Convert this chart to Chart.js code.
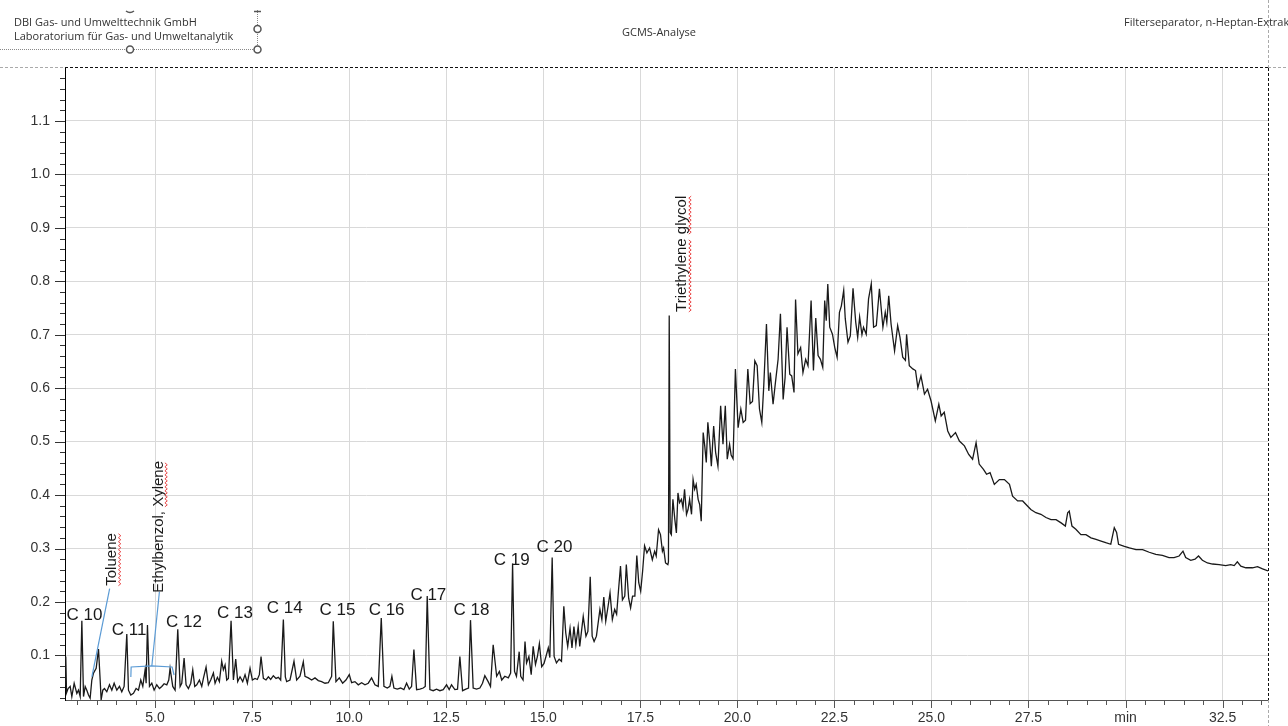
<!DOCTYPE html>
<html>
<head>
<meta charset="utf-8">
<script src="https://cdn.jsdelivr.net/npm/chart.js@4.4.0/dist/chart.umd.min.js"></script>
<style>
html,body{margin:0;padding:0;background:#fff;width:1288px;height:726px;overflow:hidden;}
#wrap{position:relative;width:1288px;height:726px;}
#c{position:absolute;left:0;top:0;}
svg{position:absolute;left:0;top:0;pointer-events:none;}
.hdr{position:absolute;font-family:"Open Sans","Noto Sans",sans-serif;font-size:11px;line-height:13px;color:#333;white-space:nowrap;}
</style>
</head>
<body>
<div id="wrap">
<canvas id="c" width="1288" height="726"></canvas>
<svg width="1288" height="726">
  <line x1="0" y1="49.5" x2="257" y2="49.5" stroke="#888" stroke-width="1" stroke-dasharray="1,1"/>
  <line x1="257.5" y1="10" x2="257.5" y2="49" stroke="#888" stroke-width="1" stroke-dasharray="1,1"/>
  <path d="M126 11 Q130 14 134 11" stroke="#555" stroke-width="1.5" fill="none"/>
  <line x1="254" y1="11.5" x2="261" y2="11.5" stroke="#555" stroke-width="1.5"/>
  <circle cx="130" cy="49.5" r="3.5" fill="#fff" stroke="#555" stroke-width="1.5"/>
  <circle cx="257.5" cy="49.5" r="3.5" fill="#fff" stroke="#555" stroke-width="1.5"/>
  <circle cx="257.5" cy="29" r="3.5" fill="#fff" stroke="#555" stroke-width="1.5"/>
</svg>
<div class="hdr" style="left:14px;top:15px">DBI Gas- und Umwelttechnik GmbH</div>
<div class="hdr" style="left:14px;top:29px">Laboratorium für Gas- und Umweltanalytik</div>
<div class="hdr" style="left:622px;top:25px">GCMS-Analyse</div>
<div class="hdr" style="left:1124px;top:15px">Filterseparator, n-Heptan-Extrakt</div>
</div>
<script>
// ---------- data: [retention time (min), signal] ----------
const signalEarly = [
[2.685,0.045],[2.70,0.098],[2.72,0.030],[2.76,0.038],[2.813,0.042],[2.856,0.023],[2.916,0.048],[2.985,0.029],[3.028,0.035],[3.071,0.023],
[3.114,0.165],[3.157,0.023],[3.200,0.042],[3.242,0.035],[3.285,0.026],[3.328,0.020],[3.371,0.054],[3.414,0.067],[3.483,0.076],[3.543,0.112],
[3.586,0.054],[3.611,0.017],[3.654,0.035],[3.697,0.038],[3.757,0.032],[3.826,0.045],[3.886,0.035],[3.946,0.048],[4.015,0.035],[4.083,0.042],
[4.143,0.032],[4.203,0.042],[4.272,0.140],[4.315,0.035],[4.375,0.026],[4.444,0.029],[4.512,0.038],[4.572,0.035],[4.632,0.054],[4.684,0.042],
[4.744,0.073],[4.770,0.048],[4.804,0.157],[4.856,0.042],[4.916,0.048],[4.976,0.035],[5.044,0.045],[5.113,0.038],[5.173,0.042],[5.233,0.047],
[5.302,0.045],[5.353,0.054],[5.387,0.076],[5.456,0.042],[5.516,0.035],[5.585,0.149],[5.645,0.042],[5.688,0.048],[5.748,0.095],[5.799,0.045],
[5.859,0.038],[5.919,0.048],[5.971,0.073],[6.022,0.042],[6.074,0.045],[6.143,0.054],[6.203,0.042],[6.245,0.057],[6.314,0.078],[6.374,0.045],
[6.434,0.054],[6.503,0.067],[6.546,0.048],[6.606,0.059],[6.657,0.051],[6.717,0.089],[6.760,0.073],[6.803,0.082],[6.846,0.054],[6.889,0.057],
[6.958,0.165],[7.018,0.054],[7.078,0.093],[7.129,0.051],[7.189,0.060],[7.258,0.051],[7.318,0.064],[7.378,0.048],[7.447,0.076],[7.507,0.054],
[7.575,0.057],[7.635,0.055],[7.687,0.064],[7.730,0.098],[7.790,0.057],[7.858,0.054],[7.919,0.060],[7.979,0.055],[8.047,0.062],[8.116,0.057],
[8.176,0.059],[8.236,0.054],[8.305,0.167],[8.356,0.060]
];
const signalMid = [
[8.390,0.051],[8.476,0.054],[8.579,0.089],[8.648,0.054],[8.733,0.061],[8.819,0.088],[8.862,0.061],[8.948,0.058],[9.034,0.054],[9.120,0.058],
[9.205,0.053],[9.291,0.051],[9.377,0.048],[9.463,0.049],[9.549,0.061],[9.591,0.164],[9.660,0.051],[9.746,0.058],[9.832,0.048],[9.917,0.054],
[10.003,0.064],[10.063,0.049],[10.149,0.051],[10.235,0.045],[10.321,0.049],[10.407,0.045],[10.492,0.048],[10.578,0.058],[10.664,0.045],[10.750,0.042],
[10.827,0.170],[10.896,0.042],[10.982,0.039],[11.050,0.042],[11.101,0.061],[11.153,0.039],[11.239,0.037],[11.325,0.039],[11.410,0.036],[11.479,0.048],
[11.548,0.037],[11.608,0.042],[11.668,0.111],[11.737,0.036],[11.822,0.037],[11.908,0.039],[11.960,0.042],[12.011,0.211],[12.080,0.036],[12.165,0.034],
[12.251,0.037],[12.337,0.034],[12.423,0.036],[12.509,0.045],[12.577,0.036],[12.637,0.045],[12.723,0.036],[12.792,0.037],[12.852,0.098],[12.921,0.034],
[13.006,0.037],[13.075,0.039],[13.126,0.166],[13.195,0.039],[13.281,0.037],[13.367,0.039],[13.435,0.048],[13.495,0.062],[13.581,0.051],[13.641,0.042],
[13.710,0.120],[13.80,0.061],[13.87,0.070],[13.93,0.054],[14.01,0.061],[14.10,0.058],[14.16,0.067],[14.21,0.272],[14.26,0.070],[14.31,0.061],
[14.38,0.107],[14.42,0.061],[14.48,0.054],[14.53,0.126],[14.57,0.086],[14.63,0.098],[14.69,0.064],[14.74,0.117],[14.80,0.083],[14.85,0.098],
[14.90,0.122],[14.96,0.079],[15.02,0.085],[15.07,0.098],[15.13,0.114],[15.17,0.096],[15.23,0.283],[15.28,0.098],[15.34,0.086],[15.41,0.093],
[15.47,0.089],[15.53,0.192],[15.58,0.142],[15.63,0.117],[15.69,0.151],[15.74,0.114],[15.79,0.154],[15.84,0.120],[15.90,0.154],[15.94,0.117],
[16.03,0.173],[16.10,0.136],[16.15,0.145],[16.21,0.247],[16.26,0.136],[16.31,0.126],[16.37,0.136],[16.46,0.186],[16.51,0.167],[16.56,0.209],
[16.61,0.164],[16.67,0.192],[16.72,0.217],[16.78,0.167],[16.84,0.186],[16.89,0.177],[16.94,0.223],[16.99,0.267],[17.04,0.204],[17.10,0.211],
[17.14,0.270],[17.20,0.207],[17.25,0.189],[17.30,0.211],[17.36,0.211],[17.41,0.287],[17.46,0.236],[17.51,0.220],[17.56,0.258],[17.61,0.305],
[17.67,0.292],[17.74,0.301],[17.81,0.279],[17.87,0.295],[17.91,0.286],[17.97,0.335],[18.02,0.326],[18.07,0.295],[18.10,0.301],[18.15,0.273],
[18.21,0.270],[18.225,0.275]
];
const signalHump = [
[18.245,0.736],[18.27,0.330],[18.30,0.326],[18.34,0.392],[18.39,0.354],[18.43,0.329],[18.47,0.404],[18.51,0.386],[18.56,0.392],[18.60,0.376],
[18.64,0.411],[18.69,0.364],[18.73,0.373],[18.77,0.392],[18.82,0.364],[18.86,0.429],[18.90,0.411],[18.94,0.420],[18.99,0.392],[19.03,0.382],
[19.07,0.351],[19.12,0.517],[19.16,0.492],[19.20,0.461],[19.24,0.536],[19.29,0.498],[19.33,0.454],[19.39,0.529],[19.44,0.480],[19.50,0.454],
[19.57,0.567],[19.63,0.495],[19.69,0.567],[19.74,0.467],[19.80,0.495],[19.84,0.475],[19.89,0.468],[19.95,0.636],[20.02,0.526],[20.09,0.561],
[20.15,0.536],[20.21,0.540],[20.27,0.636],[20.33,0.571],[20.39,0.575],[20.45,0.651],[20.51,0.642],[20.57,0.561],[20.63,0.536],[20.68,0.604],
[20.75,0.720],[20.81,0.595],[20.85,0.629],[20.92,0.570],[20.98,0.610],[21.05,0.654],[21.11,0.739],[21.18,0.579],[21.23,0.620],[21.28,0.714],
[21.35,0.626],[21.40,0.623],[21.46,0.592],[21.50,0.766],[21.56,0.664],[21.63,0.676],[21.69,0.629],[21.76,0.654],[21.82,0.642],[21.90,0.764],
[21.96,0.633],[22.02,0.731],[22.08,0.661],[22.14,0.654],[22.20,0.639],[22.25,0.764],[22.29,0.726],[22.33,0.795],[22.38,0.714],[22.45,0.701],
[22.51,0.676],[22.57,0.658],[22.63,0.742],[22.68,0.754],[22.74,0.783],[22.78,0.730],[22.85,0.686],[22.91,0.698],[22.98,0.787],[23.05,0.723],
[23.10,0.695],[23.15,0.733],[23.21,0.700],[23.25,0.714],[23.32,0.701],[23.38,0.767],[23.45,0.795],[23.51,0.714],[23.58,0.717],[23.66,0.786]
];
const signalTail = [
[23.75,0.714],[23.81,0.742],[23.85,0.723],[23.90,0.773],[23.96,0.720],[24.05,0.670],[24.13,0.717],[24.19,0.695],[24.26,0.658],[24.33,0.652],
[24.36,0.701],[24.43,0.642],[24.52,0.636],[24.59,0.633],[24.65,0.601],[24.73,0.623],[24.82,0.589],[24.90,0.598],[24.99,0.576],[25.10,0.539],
[25.19,0.570],[25.25,0.548],[25.33,0.555],[25.42,0.520],[25.50,0.508],[25.62,0.517],[25.72,0.501],[25.85,0.492],[25.96,0.476],[26.06,0.467],
[26.15,0.498],[26.23,0.458],[26.34,0.448],[26.42,0.439],[26.51,0.442],[26.62,0.420],[26.75,0.429],[26.88,0.429],[27.01,0.420],[27.09,0.398],
[27.22,0.389],[27.35,0.389],[27.48,0.379],[27.56,0.373],[27.69,0.367],[27.82,0.364],[27.95,0.358],[28.08,0.354],[28.21,0.354],[28.34,0.348],
[28.45,0.342],[28.51,0.367],[28.55,0.370],[28.62,0.342],[28.72,0.336],[28.85,0.326],[28.98,0.326],[29.11,0.320],[29.24,0.317],[29.37,0.314],
[29.49,0.311],[29.62,0.308],[29.71,0.339],[29.77,0.330],[29.82,0.308],[29.97,0.304],[30.10,0.301],[30.27,0.298],[30.44,0.298],[30.61,0.293],
[30.78,0.289],[30.95,0.287],[31.12,0.283],[31.25,0.283],[31.38,0.286],[31.48,0.295],[31.55,0.283],[31.68,0.278],[31.79,0.280],[31.88,0.286],
[31.98,0.278],[32.11,0.273],[32.24,0.271],[32.41,0.270],[32.58,0.268],[32.71,0.270],[32.80,0.268],[32.88,0.275],[32.97,0.267],[33.10,0.264],
[33.27,0.264],[33.40,0.266],[33.53,0.262],[33.67,0.258]
];

// axis ranges and tick steps
const xRange = [2.68, 33.67];
const yRange = [0.0166, 1.199];
const xTickStep = 0.5;
const yTickStep = 0.02;

// peak labels (n-alkanes): text, time, label level
const peakNames  = ['C 10','C 11','C 12','C 13','C 14','C 15','C 16','C 17','C 18','C 19','C 20'];
const peakTimes  = [3.18, 4.33, 5.745, 7.06, 8.34, 9.70, 10.965, 12.04, 13.15, 14.19, 15.29];
const peakLevels = [0.1666, 0.138, 0.1535, 0.170, 0.180, 0.1755, 0.1755, 0.204, 0.1755, 0.2685, 0.293];

// compound labels (vertical)
const compoundNames  = ['Toluene', 'Ethylbenzol, Xylene', 'Triethylene glycol'];
const compoundTimes  = [3.997, 5.194, 18.69];
const compoundLevels = [0.2304, 0.2173, 0.7426];
const compoundFlagged = [['Toluene'], ['Xylene'], ['Triethylene', 'glycol']];

// leader lines (time, level)
const leaderLines = [
  [[3.830,0.2248],[3.372,0.0597]],
  [[5.112,0.2191],[4.917,0.0803]],
  [[4.376,0.0597],[4.384,0.0784],[4.917,0.0803],[5.439,0.0784],[5.490,0.0634]]
];

const signal = [...signalEarly, ...signalMid, ...signalHump, ...signalTail].map(([t, v]) => ({x: t, y: v}));

const isMajorX = v => Math.round(v * 2) % 5 === 0;
const isMajorY = v => Math.round(v * 100) % 10 === 0;
const FONT = '"Liberation Sans", Arial, sans-serif';

const framePlugin = {
  id: 'frame',
  afterDraw(chart) {
    const {ctx, chartArea: a, width, height} = chart;
    const xs = chart.scales.x, ys = chart.scales.y;
    ctx.save();
    // tick marks
    ctx.setLineDash([]);
    ctx.lineWidth = 1;
    ctx.strokeStyle = '#555';
    xs.ticks.forEach(t => {
      const px = Math.round(xs.getPixelForValue(t.value)) + 0.5;
      const len = isMajorX(t.value) ? 8 : 5;
      ctx.beginPath(); ctx.moveTo(px, a.bottom); ctx.lineTo(px, a.bottom + len); ctx.stroke();
    });
    ctx.strokeStyle = '#333';
    ys.ticks.forEach(t => {
      const py = Math.round(ys.getPixelForValue(t.value)) + 0.5;
      const len = isMajorY(t.value) ? 10 : 5;
      ctx.beginPath(); ctx.moveTo(a.left - len, py); ctx.lineTo(a.left, py); ctx.stroke();
    });
    // dashed page lines
    const ty = a.top - 0.5, rx = a.right + 0.5;
    ctx.setLineDash([3, 2]);
    ctx.strokeStyle = '#aaa';
    ctx.beginPath(); ctx.moveTo(0, ty); ctx.lineTo(a.left, ty); ctx.stroke();
    ctx.beginPath(); ctx.moveTo(a.right, ty); ctx.lineTo(width, ty); ctx.stroke();
    ctx.beginPath(); ctx.moveTo(rx, 0); ctx.lineTo(rx, a.top); ctx.stroke();
    ctx.beginPath(); ctx.moveTo(rx, a.bottom); ctx.lineTo(rx, height); ctx.stroke();
    // plot frame top/right
    ctx.strokeStyle = '#111';
    ctx.beginPath(); ctx.moveTo(a.left, ty); ctx.lineTo(a.right, ty); ctx.stroke();
    ctx.beginPath(); ctx.moveTo(rx, a.top); ctx.lineTo(rx, a.bottom); ctx.stroke();
    ctx.restore();
  }
};

const annotatePlugin = {
  id: 'annotate',
  afterDatasetsDraw(chart) {
    const {ctx} = chart;
    const xs = chart.scales.x, ys = chart.scales.y;
    ctx.save();
    // leader lines
    ctx.strokeStyle = '#5b9bd5';
    ctx.lineWidth = 1.2;
    leaderLines.forEach(path => {
      ctx.beginPath();
      path.forEach(([t, v], i) => {
        const px = xs.getPixelForValue(t), py = ys.getPixelForValue(v);
        if (i) ctx.lineTo(px, py); else ctx.moveTo(px, py);
      });
      ctx.stroke();
    });
    // peak labels
    ctx.fillStyle = '#1a1a1a';
    ctx.font = '17px ' + FONT;
    ctx.textAlign = 'center';
    ctx.textBaseline = 'alphabetic';
    peakNames.forEach((n, i) => {
      ctx.fillText(n, xs.getPixelForValue(peakTimes[i]), ys.getPixelForValue(peakLevels[i]));
    });
    // vertical compound labels
    ctx.font = '15px ' + FONT;
    compoundNames.forEach((n, i) => {
      ctx.save();
      ctx.translate(xs.getPixelForValue(compoundTimes[i]), ys.getPixelForValue(compoundLevels[i]));
      ctx.rotate(-Math.PI / 2);
      ctx.textAlign = 'left';
      ctx.fillStyle = '#1a1a1a';
      ctx.fillText(n, 0, 0);
      ctx.strokeStyle = '#e84a4a';
      ctx.lineWidth = 1;
      compoundFlagged[i].forEach(w => {
        const idx = n.indexOf(w);
        const x0 = ctx.measureText(n.slice(0, idx)).width;
        const x1 = x0 + ctx.measureText(w).width;
        ctx.beginPath();
        let k = 0;
        for (let xx = x0; xx <= x1; xx += 2, k++) {
          const yy = 3.5 + (k % 2 ? 1.2 : -1.2);
          if (k) ctx.lineTo(xx, yy); else ctx.moveTo(xx, yy);
        }
        ctx.stroke();
      });
      ctx.restore();
    });
    ctx.restore();
  }
};

new Chart(document.getElementById('c'), {
  type: 'line',
  data: {
    datasets: [{
      data: signal,
      borderColor: '#1a1a1a',
      borderWidth: 1.3,
      pointRadius: 0,
      tension: 0,
      fill: false
    }]
  },
  options: {
    responsive: false,
    animation: false,
    devicePixelRatio: 1,
    layout: {padding: {top: 68, right: 20, left: 0, bottom: 0}},
    plugins: {legend: {display: false}, tooltip: {enabled: false}},
    scales: {
      x: {
        type: 'linear',
        min: xRange[0], max: xRange[1],
        afterFit: s => { s.height = 26; },
        border: {color: '#555', width: 1},
        grid: {
          color: c => (c.tick && isMajorX(c.tick.value)) ? '#d9d9d9' : 'rgba(0,0,0,0)',
          drawTicks: false
        },
        ticks: {
          stepSize: xTickStep,
          includeBounds: false,
          autoSkip: false,
          maxRotation: 0,
          padding: 10,
          color: '#333',
          font: {family: FONT, size: 14},
          callback: v => isMajorX(v) ? (Math.abs(v - 30) < 1e-6 ? 'min' : v.toFixed(1)) : ''
        }
      },
      y: {
        type: 'linear',
        min: yRange[0], max: yRange[1],
        afterFit: s => { s.width = 65; },
        border: {color: '#000', width: 1},
        grid: {
          color: c => (c.tick && isMajorY(c.tick.value)) ? '#d9d9d9' : 'rgba(0,0,0,0)',
          drawTicks: false
        },
        ticks: {
          stepSize: yTickStep,
          includeBounds: false,
          autoSkip: false,
          padding: 15,
          color: '#333',
          font: {family: FONT, size: 14},
          callback: v => isMajorY(v) ? v.toFixed(1) : ''
        }
      }
    }
  },
  plugins: [framePlugin, annotatePlugin]
});
</script>
</body>
</html>
